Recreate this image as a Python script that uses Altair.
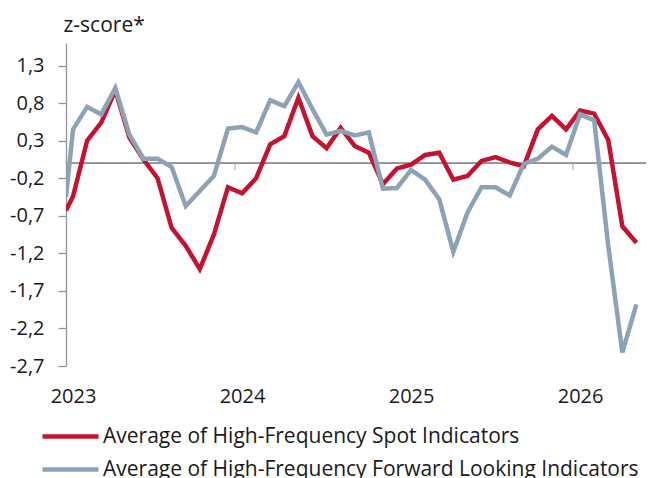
import altair as alt
import pandas as pd

# month index: 0 = Jan 2023 ... 40 = May 2026 (first point half a month before, clipped at axis)
months = [-0.5] + list(range(41))

spot = [-0.63, -0.44, 0.30, 0.54, 0.97, 0.34, 0.05, -0.20, -0.86, -1.10, -1.41,
        -0.95, -0.32, -0.40, -0.20, 0.25, 0.36, 0.87, 0.36, 0.20, 0.47,
        0.23, 0.14, -0.28, -0.07, -0.02, 0.11, 0.14, -0.22, -0.17, 0.03,
        0.08, 0.01, -0.04, 0.45, 0.63, 0.45, 0.70, 0.66, 0.31, -0.84, -1.06]

forward = [-0.45, 0.45, 0.75, 0.65, 1.00, 0.38, 0.06, 0.06, -0.05, -0.57, -0.37,
           -0.17, 0.46, 0.48, 0.41, 0.84, 0.76, 1.08, 0.72, 0.38, 0.43,
           0.37, 0.41, -0.34, -0.33, -0.09, -0.22, -0.48, -1.18, -0.66, -0.32,
           -0.32, -0.43, -0.01, 0.06, 0.22, 0.11, 0.65, 0.57, -1.10, -2.52, -1.88]

series_names = ["Average of High-Frequency Spot Indicators",
                "Average of High-Frequency Forward Looking Indicators"]
series_colors = ["#C41230", "#8DA2B5"]

y_ticks = [-2.7, -2.2, -1.7, -1.2, -0.7, -0.2, 0.3, 0.8, 1.3]
year_ticks = [0, 12, 24, 36]
year_labels = ["2023", "2024", "2025", "2026"]
boundary_ticks = [11.5, 23.5, 35.5]

df_spot = pd.DataFrame({"m": months, "value": spot, "series": series_names[0]})
df_fwd = pd.DataFrame({"m": months, "value": forward, "series": series_names[1]})
df_ticks = pd.DataFrame({"m": boundary_ticks, "value": [0.0] * len(boundary_ticks)})

label_expr = " : ".join(
    f"datum.value == {t} ? '{l}'" for t, l in zip(year_ticks, year_labels)
) + " : ''"

x_scale = alt.Scale(domain=[-0.5, 40.68], nice=False, zero=False)
y_scale = alt.Scale(domain=[-2.7, 1.6], nice=False, zero=False)

x_axis = alt.Axis(values=year_ticks, labelExpr=label_expr, title=None, domain=False,
                  ticks=False, grid=False, labelFontSize=20, labelPadding=20,
                  labelColor="#1a1a1a")
y_axis = alt.Axis(values=y_ticks, title="z-score*", titleAngle=0, titleAlign="left",
                  titleBaseline="alphabetic", titleX=-3, titleY=-12, titleFontSize=21,
                  titleFontWeight="normal", titleColor="#1a1a1a",
                  labelExpr="(datum.value < 0 ? '-' : '') + replace(format(abs(datum.value), '.1f'), '.', ',')",
                  labelFontSize=20, labelPadding=14, labelColor="#1a1a1a",
                  domainColor="#8C969E", tickColor="#8C969E", tickSize=8, grid=False,
                  domainWidth=1.3, tickWidth=1.3)

color_scale = alt.Scale(domain=series_names, range=series_colors)

zero_rule = alt.Chart(df_ticks).mark_rule(color="#8C9396", strokeWidth=1.5).encode(
    y=alt.Y("value:Q", scale=y_scale, axis=y_axis)
)

ticks = alt.Chart(df_ticks).mark_tick(orient="vertical", size=7, thickness=1.2,
                                       yOffset=3.5, color="#8C9396").encode(
    x=alt.X("m:Q", scale=x_scale, axis=x_axis),
    y=alt.Y("value:Q", scale=y_scale, axis=y_axis),
)

legend = alt.Legend(orient="none", legendX=-6, legendY=383, title=None,
                    symbolType="M-4,0H4", symbolSize=196, symbolStrokeWidth=4.5,
                    labelFontSize=21, labelOffset=22, labelLimit=0, padding=0,
                    rowPadding=11, labelColor="#1a1a1a", direction="vertical")

line_spot = alt.Chart(df_spot).mark_line(strokeWidth=4.5, clip=True).encode(
    x=alt.X("m:Q", scale=x_scale, axis=x_axis),
    y=alt.Y("value:Q", scale=y_scale, axis=y_axis),
    color=alt.Color("series:N", scale=color_scale, legend=legend),
)

line_fwd = alt.Chart(df_fwd).mark_line(strokeWidth=4.5, clip=True).encode(
    x=alt.X("m:Q", scale=x_scale, axis=x_axis),
    y=alt.Y("value:Q", scale=y_scale, axis=y_axis),
    color=alt.Color("series:N", scale=color_scale, legend=legend),
)

chart = alt.layer(zero_rule, ticks, line_spot, line_fwd).properties(
    width=580, height=323,
    autosize=alt.AutoSizeParams(type="none"),
    padding={"left": 58, "top": 35, "right": 0, "bottom": 112},
).configure(font="Open Sans", background="white").configure_view(stroke=None)

chart.save("out.html", embed_options={"renderer": "svg", "actions": False})
